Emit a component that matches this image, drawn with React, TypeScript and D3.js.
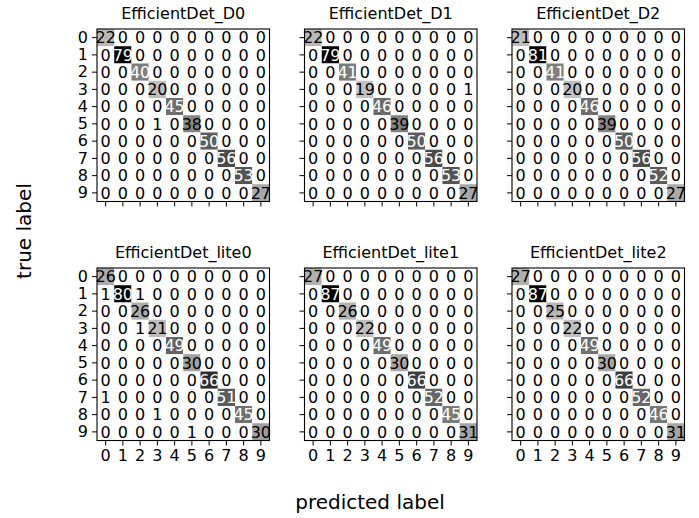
import React, { useRef, useEffect } from 'react';
import * as d3 from 'd3';

// class labels 0..9, same on both axes
const classLabels = ['0', '1', '2', '3', '4', '5', '6', '7', '8', '9'];

const modelNames = [
    'EfficientDet_D0', 'EfficientDet_D1', 'EfficientDet_D2',
    'EfficientDet_lite0', 'EfficientDet_lite1', 'EfficientDet_lite2',
];

// confusion matrices, rows = true label, cols = predicted label
const cmD0 = [
    [22, 0, 0, 0, 0, 0, 0, 0, 0, 0],
    [0, 79, 0, 0, 0, 0, 0, 0, 0, 0],
    [0, 0, 40, 0, 0, 0, 0, 0, 0, 0],
    [0, 0, 0, 20, 0, 0, 0, 0, 0, 0],
    [0, 0, 0, 0, 45, 0, 0, 0, 0, 0],
    [0, 0, 0, 1, 0, 38, 0, 0, 0, 0],
    [0, 0, 0, 0, 0, 0, 50, 0, 0, 0],
    [0, 0, 0, 0, 0, 0, 0, 56, 0, 0],
    [0, 0, 0, 0, 0, 0, 0, 0, 53, 0],
    [0, 0, 0, 0, 0, 0, 0, 0, 0, 27],
];
const cmD1 = [
    [22, 0, 0, 0, 0, 0, 0, 0, 0, 0],
    [0, 79, 0, 0, 0, 0, 0, 0, 0, 0],
    [0, 0, 41, 0, 0, 0, 0, 0, 0, 0],
    [0, 0, 0, 19, 0, 0, 0, 0, 0, 1],
    [0, 0, 0, 0, 46, 0, 0, 0, 0, 0],
    [0, 0, 0, 0, 0, 39, 0, 0, 0, 0],
    [0, 0, 0, 0, 0, 0, 50, 0, 0, 0],
    [0, 0, 0, 0, 0, 0, 0, 56, 0, 0],
    [0, 0, 0, 0, 0, 0, 0, 0, 53, 0],
    [0, 0, 0, 0, 0, 0, 0, 0, 0, 27],
];
const cmD2 = [
    [21, 0, 0, 0, 0, 0, 0, 0, 0, 0],
    [0, 81, 0, 0, 0, 0, 0, 0, 0, 0],
    [0, 0, 41, 0, 0, 0, 0, 0, 0, 0],
    [0, 0, 0, 20, 0, 0, 0, 0, 0, 0],
    [0, 0, 0, 0, 46, 0, 0, 0, 0, 0],
    [0, 0, 0, 0, 0, 39, 0, 0, 0, 0],
    [0, 0, 0, 0, 0, 0, 50, 0, 0, 0],
    [0, 0, 0, 0, 0, 0, 0, 56, 0, 0],
    [0, 0, 0, 0, 0, 0, 0, 0, 52, 0],
    [0, 0, 0, 0, 0, 0, 0, 0, 0, 27],
];
const cmLite0 = [
    [26, 0, 0, 0, 0, 0, 0, 0, 0, 0],
    [1, 80, 1, 0, 0, 0, 0, 0, 0, 0],
    [0, 0, 26, 0, 0, 0, 0, 0, 0, 0],
    [0, 0, 1, 21, 0, 0, 0, 0, 0, 0],
    [0, 0, 0, 0, 49, 0, 0, 0, 0, 0],
    [0, 0, 0, 0, 0, 30, 0, 0, 0, 0],
    [0, 0, 0, 0, 0, 0, 66, 0, 0, 0],
    [1, 0, 0, 0, 0, 0, 0, 51, 0, 0],
    [0, 0, 0, 1, 0, 0, 0, 0, 45, 0],
    [0, 0, 0, 0, 0, 1, 0, 0, 0, 30],
];
const cmLite1 = [
    [27, 0, 0, 0, 0, 0, 0, 0, 0, 0],
    [0, 87, 0, 0, 0, 0, 0, 0, 0, 0],
    [0, 0, 26, 0, 0, 0, 0, 0, 0, 0],
    [0, 0, 0, 22, 0, 0, 0, 0, 0, 0],
    [0, 0, 0, 0, 49, 0, 0, 0, 0, 0],
    [0, 0, 0, 0, 0, 30, 0, 0, 0, 0],
    [0, 0, 0, 0, 0, 0, 66, 0, 0, 0],
    [0, 0, 0, 0, 0, 0, 0, 52, 0, 0],
    [0, 0, 0, 0, 0, 0, 0, 0, 45, 0],
    [0, 0, 0, 0, 0, 0, 0, 0, 0, 31],
];
const cmLite2 = [
    [27, 0, 0, 0, 0, 0, 0, 0, 0, 0],
    [0, 87, 0, 0, 0, 0, 0, 0, 0, 0],
    [0, 0, 25, 0, 0, 0, 0, 0, 0, 0],
    [0, 0, 0, 22, 0, 0, 0, 0, 0, 0],
    [0, 0, 0, 0, 49, 0, 0, 0, 0, 0],
    [0, 0, 0, 0, 0, 30, 0, 0, 0, 0],
    [0, 0, 0, 0, 0, 0, 66, 0, 0, 0],
    [0, 0, 0, 0, 0, 0, 0, 52, 0, 0],
    [0, 0, 0, 0, 0, 0, 0, 0, 46, 0],
    [0, 0, 0, 0, 0, 0, 0, 0, 0, 31],
];

const matrices = [cmD0, cmD1, cmD2, cmLite0, cmLite1, cmLite2];

const FONT = '"DejaVu Sans", sans-serif';

const App = () => {
    const svgRef = useRef<SVGSVGElement>(null);

    useEffect(() => {
        const svg = d3.select(svgRef.current);
        svg.selectAll('*').remove();

        const size = 172.5;
        const panelX = [97, 304.5, 512];
        const panelY = [29, 268];

        matrices.forEach((cm, k) => {
            const col = k % 3;
            const row = Math.floor(k / 3);
            const g = svg.append('g').attr('transform', `translate(${panelX[col]},${panelY[row]})`);

            const x = d3.scaleBand<number>().domain(d3.range(10)).range([0, size]);
            const y = d3.scaleBand<number>().domain(d3.range(10)).range([0, size]);
            const maxVal = d3.max(cm.flat()) as number;
            // gray_r style: 0 -> white, max -> black
            const color = d3.scaleLinear<string>().domain([0, maxVal]).range(['#ffffff', '#000000']);

            const cells = cm.flatMap((r, i) => r.map((v, j) => ({ i, j, v })));

            g.selectAll('rect.cell')
                .data(cells)
                .join('rect')
                .attr('class', 'cell')
                .attr('x', d => x(d.j)!)
                .attr('y', d => y(d.i)!)
                .attr('width', x.bandwidth())
                .attr('height', y.bandwidth())
                .attr('fill', d => color(d.v));

            g.selectAll('text.val')
                .data(cells)
                .join('text')
                .attr('class', 'val')
                .attr('x', d => x(d.j)! + x.bandwidth() / 2)
                .attr('y', d => y(d.i)! + y.bandwidth() / 2)
                .attr('text-anchor', 'middle')
                .attr('dy', '0.36em')
                .attr('font-family', FONT)
                .attr('font-size', 16)
                .attr('fill', d => (d.v > maxVal / 2 ? '#ffffff' : '#000000'))
                .text(d => d.v);

            g.append('rect')
                .attr('width', size)
                .attr('height', size)
                .attr('fill', 'none')
                .attr('stroke', '#000')
                .attr('stroke-width', 1.1);

            const yAxis = d3.axisLeft(y).tickSize(5).tickPadding(4)
                .tickFormat(i => (col === 0 ? classLabels[i] : ''));
            g.append('g').call(yAxis)
                .attr('font-size', 16).attr('font-family', FONT)
                .call(a => a.select('.domain').remove());

            const xAxis = d3.axisBottom(x).tickSize(5).tickPadding(4)
                .tickFormat(i => (row === 1 ? classLabels[i] : ''));
            g.append('g').attr('transform', `translate(0,${size})`).call(xAxis)
                .attr('font-size', 16).attr('font-family', FONT)
                .call(a => a.select('.domain').remove());

            g.append('text')
                .attr('x', size / 2)
                .attr('y', -10)
                .attr('text-anchor', 'middle')
                .attr('font-family', FONT)
                .attr('font-size', 16)
                .text(modelNames[k]);
        });

        svg.append('text')
            .attr('transform', 'translate(31,231) rotate(-90)')
            .attr('text-anchor', 'middle')
            .attr('font-family', FONT)
            .attr('font-size', 20)
            .text('true label');

        svg.append('text')
            .attr('x', 370)
            .attr('y', 509)
            .attr('text-anchor', 'middle')
            .attr('font-family', FONT)
            .attr('font-size', 20)
            .text('predicted label');
    }, []);

    return (
        <svg ref={svgRef} width={699} height={518}
            style={{ position: 'absolute', left: 0, top: 0, background: '#fff' }} />
    );
};

export default App;
